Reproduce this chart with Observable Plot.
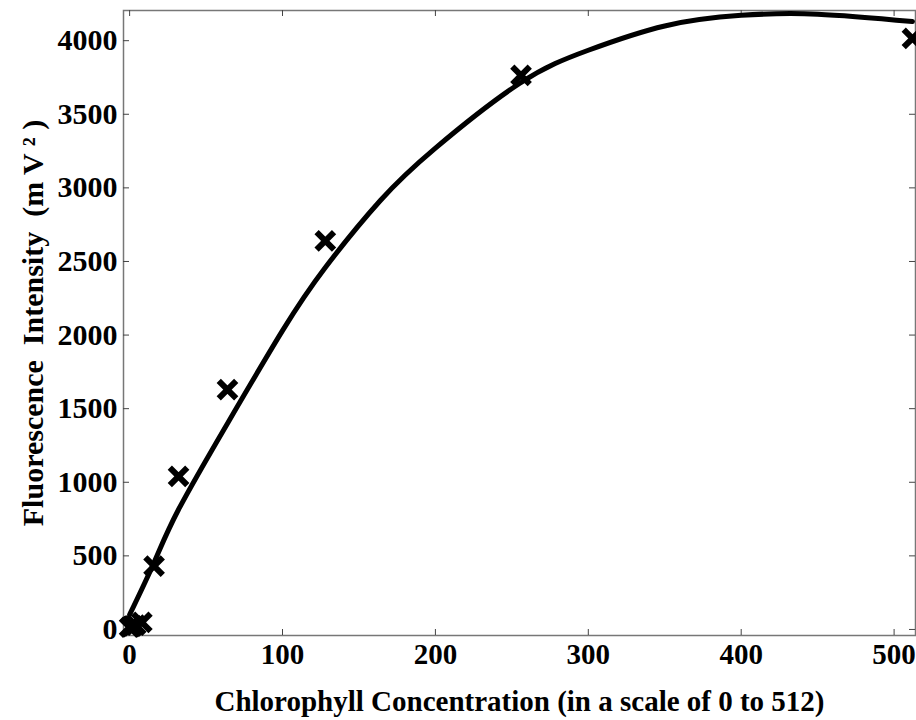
<!DOCTYPE html>
<html>
<head>
<meta charset="utf-8">
<script src="https://cdn.jsdelivr.net/npm/d3@7"></script>
<script src="https://cdn.jsdelivr.net/npm/@observablehq/plot@0.6"></script>
<style>
  html, body { margin: 0; padding: 0; background: #fff; }
  #chart svg { display: block; }
</style>
</head>
<body>
<div id="chart"></div>
<script>
// Measured samples (chlorophyll concentration, fluorescence intensity)
const sampleX = [0, 1, 2, 4, 8, 16, 32, 64, 128, 256, 512];
const sampleY = [15, 20, 25, 30, 48, 430, 1040, 1630, 2640, 3765, 4015];

// Fitted curve
const fitX = [0, 16, 32, 64, 100, 128, 164, 200, 255, 300, 350, 400, 450, 512];
const fitY = [100, 455, 815, 1400, 2030, 2459, 2914, 3270, 3709, 3935, 4100, 4172, 4180, 4130];

const xTicks = [0, 100, 200, 300, 400, 500];
const yTicks = [0, 500, 1000, 1500, 2000, 2500, 3000, 3500, 4000];

const samples = sampleX.map((x, i) => ({x, y: sampleY[i]}));
const fit = fitX.map((x, i) => ({x, y: fitY[i]}));

const W = 916, H = 720, mL = 123, mR = 1, mT = 10, mB = 85, tick = 6;
const plotW = W - mL - mR, plotH = H - mT - mB;

const chart = Plot.plot({
  width: W,
  height: H,
  marginLeft: mL,
  marginRight: mR,
  marginTop: mT,
  marginBottom: mB,
  style: {fontFamily: "'Liberation Serif', 'Times New Roman', serif", fontWeight: "bold", fontSize: "30px", color: "#000", background: "#fff"},
  x: {domain: [-4, 514]},
  y: {domain: [-41, 4205]},
  marks: [
    Plot.frame({stroke: "#777", strokeWidth: 1.5}),
    // inward tick marks on all four sides
    Plot.ruleX(xTicks, {x: d => d, insetTop: plotH - tick, stroke: "#444"}),
    Plot.ruleX(xTicks, {x: d => d, insetBottom: plotH - tick, stroke: "#444"}),
    Plot.ruleY(yTicks, {y: d => d, insetRight: plotW - tick, stroke: "#444"}),
    Plot.ruleY(yTicks, {y: d => d, insetLeft: plotW - tick, stroke: "#444"}),
    Plot.axisX({anchor: "bottom", ticks: xTicks, tickSize: 0, tickPadding: 8, tickFormat: d => String(d),
      label: "Chlorophyll Concentration (in a scale of 0 to 512)", labelAnchor: "center", labelArrow: false, labelOffset: 75, fontSize: 29}),
    Plot.axisY({anchor: "left", ticks: yTicks, tickSize: 0, tickPadding: 6, tickFormat: d => String(d),
      label: "Fluorescence  Intensity  (m V ² )", labelAnchor: "center", labelArrow: false, labelOffset: 102, fontSize: 30, letterSpacing: 1.8}),
    Plot.line(fit, {x: "x", y: "y", curve: "natural", stroke: "#000", strokeWidth: 5}),
    Plot.dot(samples, {x: "x", y: "y", symbol: "times", r: 8, stroke: "#000", strokeWidth: 6})
  ]
});
document.getElementById("chart").appendChild(chart);
</script>
</body>
</html>
